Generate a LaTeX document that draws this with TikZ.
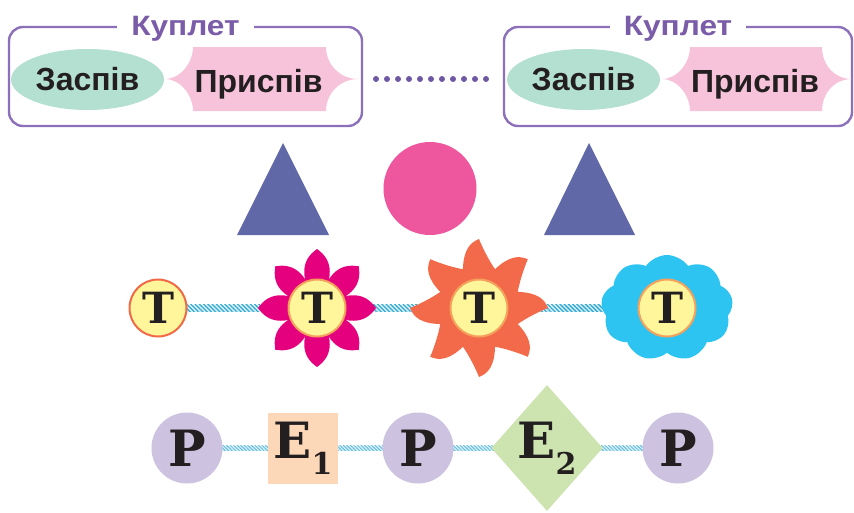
\documentclass[tikz,border=0pt]{standalone}
\usepackage{fontspec}
\usepackage{graphicx}
\setmainfont{Liberation Sans}
\newfontfamily\serifb{DejaVu Serif}
\usetikzlibrary{shapes.geometric,shapes.symbols,patterns.meta,backgrounds}
\newcommand\fsz[1]{\fontsize{#1}{#1}\selectfont}
\definecolor{boxpurple}{HTML}{8C70BA}
\definecolor{titlepurple}{HTML}{7A5CA8}
\definecolor{mint}{HTML}{B4E0D2}
\definecolor{pinkc}{HTML}{F6C3DA}
\definecolor{dotc}{HTML}{6E57A3}
\definecolor{trib}{HTML}{6068A8}
\definecolor{circp}{HTML}{EE569E}
\definecolor{tyellow}{HTML}{FFF59B}
\definecolor{tborder}{HTML}{F06A47}
\definecolor{tborder2}{HTML}{F5A15C}
\definecolor{magc}{HTML}{E5007E}
\definecolor{sunc}{HTML}{F26A4A}
\definecolor{cloudc}{HTML}{2EC4F1}
\definecolor{pviolet}{HTML}{CDC2E0}
\definecolor{eorange}{HTML}{FCD8B8}
\definecolor{egreen}{HTML}{CDE3B0}
\definecolor{hatchlight}{HTML}{D8F0F8}
\definecolor{hatchdark}{HTML}{33A9D3}
\definecolor{darktext}{HTML}{231F20}
\begin{document}
\begin{tikzpicture}[x=1pt,y=-1pt,
  kbox/.style={draw=boxpurple, line width=2.4pt, rounded corners=14pt, minimum height=99pt, inner sep=0pt},
  ktitle/.style={fill=white, text=titlepurple, font=\bfseries\fsz{28}, inner xsep=14pt, inner ysep=1pt, anchor=base},
  zasp/.style={ellipse, fill=mint, minimum width=153pt, minimum height=61pt, inner sep=0pt, font=\bfseries\fsz{32}, text=darktext},
  prys/.style={font=\bfseries\fsz{32}, text=darktext, inner sep=0pt, anchor=base},
  tnode/.style={circle, fill=tyellow, line width=2pt, minimum size=57pt, inner sep=0pt, font=\serifb\bfseries\fsz{43}, text=darktext},
  pnode/.style={circle, fill=pviolet, minimum size=71pt, inner sep=0pt, font=\serifb\bfseries\fsz{50}, text=darktext},
  enode/.style={inner sep=0pt, font=\serifb\bfseries\fsz{50}, text=darktext},
]
\useasboundingbox (0,0) rectangle (854,512);
% ---------- top: two couplets ----------
\node[kbox, minimum width=353pt] (k1) at (185.5,76.5) {};
\node[kbox, minimum width=348pt] (k2) at (678,76.5) {};
\node[ktitle] (k1t) at ([yshift=-10pt]k1.north) {\scalebox{1.13}[1]{Куплет}};
\node[ktitle] (k2t) at ([yshift=-10pt]k2.north) {\scalebox{1.13}[1]{Куплет}};
\node[zasp] (z1) at (87.5,79.5) {Заспів};
\node[zasp] (z2) at (583.5,79.5) {Заспів};
\fill[pinkc] (193,47) -- (326,47) .. controls (326,64.7) and (340.3,79) .. (358,79)
  .. controls (340.3,79) and (326,93.3) .. (326,111) -- (193,111)
  .. controls (193,95.5) and (180.5,79) .. (165,79)
  .. controls (180.5,79) and (193,62.5) .. cycle;
\fill[pinkc] (690,47) -- (822,47) .. controls (822,64.7) and (834.3,79) .. (852,79)
  .. controls (834.3,79) and (822,93.3) .. (822,111) -- (690,111)
  .. controls (690,95.5) and (677.5,79) .. (662,79)
  .. controls (677.5,79) and (690,62.5) .. cycle;
\node[prys] (p1) at (258.5,92) {Приспів};
\node[prys] (p2) at (755,92) {Приспів};
\foreach \i in {0,...,10} \fill[dotc] (376+\i*11,79) circle (3);
% ---------- shapes ----------
\fill[trib] (283,143) -- (329,235) -- (237,235) -- cycle;
\fill[trib] (589,143) -- (635,235) -- (544,235) -- cycle;
\fill[circp] (430,188.5) circle (46.5);
% ---------- T row ----------
\node[tnode, draw=tborder] (t1) at (158,308) {Т};
\node[tnode, draw=tborder2] (t2) at (317,308) {Т};
\node[tnode, draw=tborder2] (t3) at (479,308) {Т};
\node[tnode, draw=tborder2] (t4) at (667,308) {Т};
\begin{scope}[on background layer]
  \foreach \a/\b in {t1/t2,t2/t3,t3/t4}{
    \fill[hatchlight] ([yshift=-3.5pt]\a.center) rectangle ([yshift=3.5pt]\b.center);
    \fill[pattern={Lines[angle=-45, distance=3pt, line width=1.3pt]}, pattern color=hatchdark] ([yshift=-3.5pt]\a.center) rectangle ([yshift=3.5pt]\b.center);
  }
  \begin{scope}[shift={(t2.center)}]
    \foreach \r in {0,45,...,315}
      \fill[magc, rotate=\r] (0,0) .. controls (-17,30) and (-17,47) .. (0,59) .. controls (17,47) and (17,30) .. (0,0);
  \end{scope}
  \begin{scope}[shift={(t3.center)}, yscale=-1]
    \fill[sunc] (112.5:42) foreach \a in {90,45,...,-225} {
      .. controls ({\a+15}:60) and ({\a+8}:66) .. (\a:69)
      .. controls ({\a-5}:57) and ({\a-15}:46) .. ({\a-22.5}:42) } -- cycle;
  \end{scope}
  \node[cloud, cloud puffs=9, cloud puff arc=110, aspect=1.25, fill=cloudc, minimum width=132pt, minimum height=106pt, inner sep=0pt] (cl) at (t4.center) {};
\end{scope}
% ---------- P row ----------
\node[pnode] (r1) at (187,448) {Р};
\node[enode, fill=eorange, minimum width=70pt, minimum height=71pt] (e1) at (303,448) {Е\raisebox{-0.32em}{\fsz{30}1}};
\node[pnode] (r2) at (418,448) {Р};
\node[enode, diamond, fill=egreen, minimum width=100pt, minimum height=126pt] (e2) at (547,448) {Е\raisebox{-0.32em}{\fsz{30}2}};
\node[pnode] (r3) at (678,448) {Р};
\begin{scope}[on background layer]
  \foreach \a/\b in {r1/e1,e1/r2,r2/e2,e2/r3}{
    \fill[hatchlight] ([yshift=-2.5pt]\a.center) rectangle ([yshift=2.5pt]\b.center);
    \fill[pattern={Lines[angle=-45, distance=2.5pt, line width=1pt]}, pattern color=hatchdark!75] ([yshift=-2.5pt]\a.center) rectangle ([yshift=2.5pt]\b.center);
  }
\end{scope}
\end{tikzpicture}
\end{document}
